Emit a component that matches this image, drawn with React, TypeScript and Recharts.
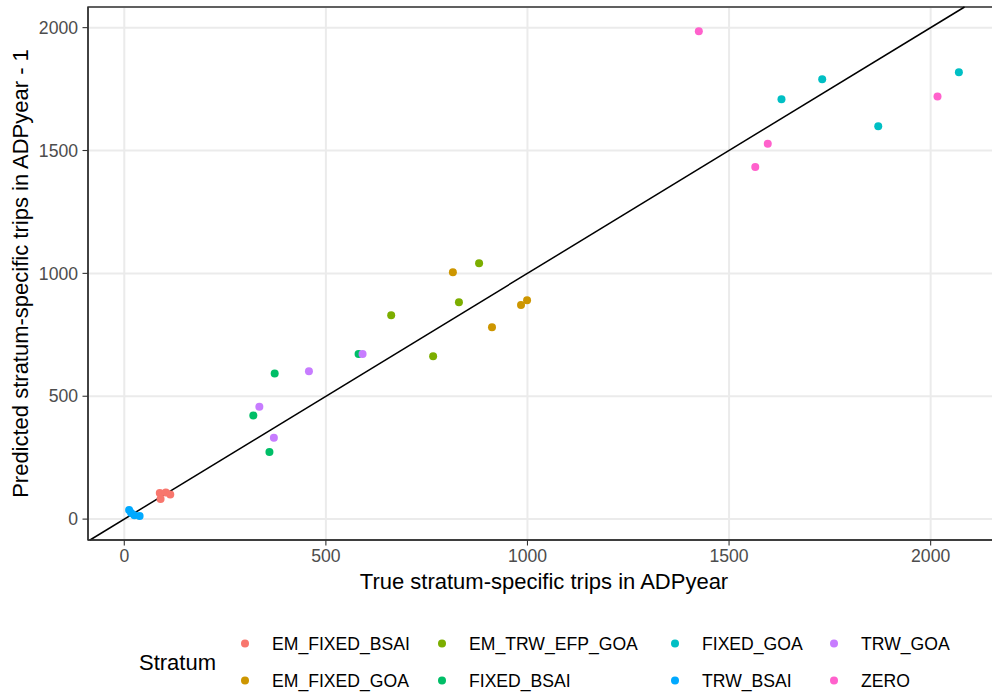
import {
  CartesianGrid,
  ReferenceArea,
  ReferenceLine,
  Scatter,
  ScatterChart,
  XAxis,
  YAxis,
} from "recharts";

const strata = [
  "EM_FIXED_BSAI",
  "EM_FIXED_GOA",
  "EM_TRW_EFP_GOA",
  "FIXED_BSAI",
  "FIXED_GOA",
  "TRW_BSAI",
  "TRW_GOA",
  "ZERO",
];
const strataColors = ["#F8766D", "#CD9600", "#7CAE00", "#00BE67", "#00BFC4", "#00A9FF", "#C77CFF", "#FF61CC"];

// true vs predicted trips, one pair of arrays per stratum
const emFixedBsaiTrue = [88, 103, 114, 90];
const emFixedBsaiPred = [106, 108, 100, 82];
const emFixedGoaTrue = [815, 912, 984, 999];
const emFixedGoaPred = [1005, 781, 871, 891];
const emTrwEfpGoaTrue = [880, 830, 662, 766];
const emTrwEfpGoaPred = [1041, 883, 830, 663];
const fixedBsaiTrue = [373, 320, 360, 581];
const fixedBsaiPred = [593, 422, 273, 672];
const fixedGoaTrue = [1630, 1731, 1870, 2070];
const fixedGoaPred = [1709, 1790, 1599, 1818];
const trwBsaiTrue = [12, 17, 25, 38];
const trwBsaiPred = [37, 25, 16, 13];
const trwGoaTrue = [458, 335, 371, 591];
const trwGoaPred = [602, 457, 331, 672];
const zeroTrue = [1425, 1596, 1565, 2017];
const zeroPred = [1985, 1527, 1433, 1720];

const trueByStratum = [emFixedBsaiTrue, emFixedGoaTrue, emTrwEfpGoaTrue, fixedBsaiTrue, fixedGoaTrue, trwBsaiTrue, trwGoaTrue, zeroTrue];
const predByStratum = [emFixedBsaiPred, emFixedGoaPred, emTrwEfpGoaPred, fixedBsaiPred, fixedGoaPred, trwBsaiPred, trwGoaPred, zeroPred];

const majorTicks = [0, 500, 1000, 1500, 2000];
const minorTicks = [250, 750, 1250, 1750];
const xDomain = [-90, 2172];
const yDomain = [-85, 2084];

const series = strata.map((name, i) => ({
  name,
  color: strataColors[i],
  points: trueByStratum[i].map((x, j) => ({ x, y: predByStratum[i][j] })),
}));

const FONT = '"Liberation Sans", Arial, sans-serif';

// legend: column-major, 2 rows like ggplot's bottom legend
const legendColX = [245, 442, 675, 834];
const legendRowY = [643.5, 680.5];

export default function App() {
  return (
    <div
      style={{
        position: "absolute",
        left: 0,
        top: 0,
        width: 992,
        height: 692,
        overflow: "hidden",
        background: "#fff",
        fontFamily: FONT,
      }}
    >
      <ScatterChart width={1000} height={692} margin={{ top: 7, right: 0, left: 0, bottom: 0 }}>
        <XAxis xAxisId="minor" type="number" dataKey="x" domain={xDomain} ticks={minorTicks} hide />
        <YAxis yAxisId="minor" type="number" dataKey="y" domain={yDomain} ticks={minorTicks} hide />
        <CartesianGrid xAxisId="minor" yAxisId="minor" stroke="#EBEBEB" strokeWidth={1} />
        <CartesianGrid stroke="#EBEBEB" strokeWidth={2} />
        <XAxis
          type="number"
          dataKey="x"
          domain={xDomain}
          ticks={majorTicks}
          height={152}
          tickSize={5.5}
          tickMargin={4}
          tick={{ fill: "#4D4D4D", fontSize: 17.6 }}
          tickLine={{ stroke: "#333333", strokeWidth: 1.1 }}
          axisLine={{ stroke: "#333333", strokeWidth: 1.4 }}
          label={{
            value: "True stratum-specific trips in ADPyear",
            position: "insideTop",
            offset: 33,
            fill: "#000",
            fontSize: 22,
          }}
        />
        <YAxis
          type="number"
          dataKey="y"
          domain={yDomain}
          ticks={majorTicks}
          width={88}
          tickSize={5.5}
          tickMargin={4.5}
          tick={{ fill: "#4D4D4D", fontSize: 17.6 }}
          tickLine={{ stroke: "#333333", strokeWidth: 1.1 }}
          axisLine={{ stroke: "#333333", strokeWidth: 1.4 }}
          label={{
            value: "Predicted stratum-specific trips in ADPyear - 1",
            angle: -90,
            position: "insideLeft",
            offset: 20,
            fill: "#000",
            fontSize: 22,
            style: { textAnchor: "middle" },
          }}
        />
        {series.map((s) => (
          <Scatter
            key={s.name}
            name={s.name}
            data={s.points}
            fill={s.color}
            isAnimationActive={false}
            shape={(p: any) => <circle cx={p.cx} cy={p.cy} r={4} fill={s.color} />}
          />
        ))}
        <ReferenceLine
          segment={[
            { x: yDomain[0], y: yDomain[0] },
            { x: yDomain[1], y: yDomain[1] },
          ]}
          stroke="#000"
          strokeWidth={1.5}
        />
        <ReferenceArea
          x1={xDomain[0]}
          x2={xDomain[1]}
          y1={yDomain[0]}
          y2={yDomain[1]}
          fill="none"
          fillOpacity={0}
          stroke="#333333"
          strokeWidth={1.4}
        />
      </ScatterChart>

      <svg
        width={992}
        height={692}
        style={{ position: "absolute", left: 0, top: 0, pointerEvents: "none", fontFamily: FONT }}
      >
        <text x={139} y={670} fontSize={22} fill="#000">
          Stratum
        </text>
        {series.map((s, i) => {
          const col = Math.floor(i / 2);
          const row = i % 2;
          const cx = legendColX[col];
          const cy = legendRowY[row];
          return (
            <g key={s.name}>
              <circle cx={cx} cy={cy} r={4} fill={s.color} />
              <text x={cx + 27} y={cy + 6.3} fontSize={17.6} fill="#000">
                {s.name}
              </text>
            </g>
          );
        })}
      </svg>
    </div>
  );
}
